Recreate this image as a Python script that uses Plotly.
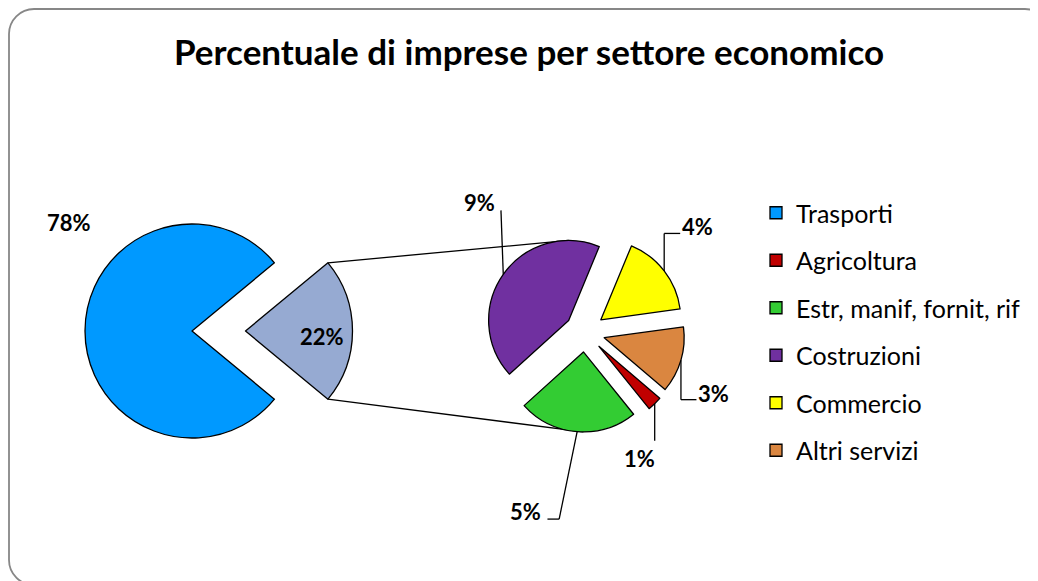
import math
import plotly.graph_objects as go

# page body has an 8px default margin: work in screen pixels, convert to paper
OX, OY = 8, 8
FW, FH = 1030, 573

# ---------------- data ----------------
categories = ["Trasporti", "Agricoltura", "Estr, manif, fornit, rif",
              "Costruzioni", "Commercio", "Altri servizi"]
values = [78.0, 0.65, 5.3, 9.45, 3.65, 2.95]
colors = ["#0099FF", "#C00000", "#33CC33", "#7030A0", "#FFFF00", "#DA8640"]
other_label = "Altro"
other_color = "#96AAD2"
title_text = "Percentuale di imprese per settore economico"

# ---------------- style / layout constants ----------------
FONT = "Lato"
MAIN_C, MAIN_R, MAIN_PULL = (192.0, 331.0), 107.0, 0.5
SEC_C, SEC_R, SEC_PULL = (585.0, 332.0), 80.0, 0.25
SEC_ROT = 130.5
LINE = dict(color="black", width=1.3)

total = sum(values)
main_labels = [categories[0], other_label]
main_values = [values[0], sum(values[1:])]
main_colors = [colors[0], other_color]
sec_labels = categories[1:]
sec_values = values[1:]
sec_colors = colors[1:]


def px(x):
    return (x - OX) / FW


def py(y):
    return 1 - (y - OY) / FH


def domain(c, r, pull):
    half = r * (1 + pull)
    return dict(x=[px(c[0] - half), px(c[0] + half)],
                y=[py(c[1] + half), py(c[1] - half)])


def direction(a):
    a = math.radians(a)
    return math.sin(a), -math.cos(a)


def slices(vals, rot):
    tot = sum(vals)
    out = []
    a = rot
    for v in vals:
        span = v / tot * 360
        out.append((a, a + span, a + span / 2))
        a += span
    return out


# main pie rotation: "other" slice centred on the right (90 deg)
main_deg = [v / sum(main_values) * 360 for v in main_values]
MAIN_ROT = (90 - main_deg[0] - main_deg[1] / 2) % 360
main_sl = slices(main_values, MAIN_ROT)
sec_sl = slices(sec_values, SEC_ROT)
main_pulls = [0, MAIN_PULL]

fig = go.Figure()

# legend entries (tiny pies hidden underneath the main pie, one group each)
for i, (lab, v, c) in enumerate(zip(categories, values, colors)):
    fig.add_trace(go.Pie(
        labels=[lab], values=[v], marker=dict(colors=[c], line=dict(color="black", width=1.3)),
        domain=dict(x=[px(150), px(152)], y=[py(332), py(330)]),
        textinfo="none", hoverinfo="skip", showlegend=True, legendgroup=f"g{i}",
        sort=False))

fig.add_trace(go.Pie(
    labels=main_labels, values=main_values, sort=False, direction="clockwise",
    rotation=MAIN_ROT, pull=main_pulls, marker=dict(colors=main_colors, line=LINE),
    domain=domain(MAIN_C, MAIN_R, MAIN_PULL), textinfo="none", showlegend=False))

fig.add_trace(go.Pie(
    labels=sec_labels, values=sec_values, sort=False, direction="clockwise",
    rotation=SEC_ROT, pull=[SEC_PULL] * len(sec_values),
    marker=dict(colors=sec_colors, line=LINE),
    domain=domain(SEC_C, SEC_R, SEC_PULL), textinfo="none", showlegend=False))

shapes = []
annotations = []
lab_font = dict(family=FONT, size=22, color="black", weight="bold")


def pct(v):
    return f"{round(v / total * 100)}%"


def label(x, y, text, font):
    annotations.append(dict(x=px(x), y=py(y), text=text, showarrow=False, font=font,
                            xref="paper", yref="paper", xanchor="center", yanchor="middle"))


# ---- connector lines between the two pies ----
s0, s1, sm = main_sl[1]
dx, dy = direction(sm)
vx, vy = MAIN_C[0] + MAIN_PULL * MAIN_R * dx, MAIN_C[1] + MAIN_PULL * MAIN_R * dy
corners = []
for a in (s0, s1):
    ex, ey = direction(a)
    corners.append((vx + MAIN_R * ex, vy + MAIN_R * ey))


def sec_point(angle):
    for a0, a1, am in sec_sl:
        if a0 <= angle < a1 or a0 <= angle + 360 < a1:
            mx, my = direction(am)
            ox, oy = SEC_C[0] + SEC_PULL * SEC_R * mx, SEC_C[1] + SEC_PULL * SEC_R * my
            ex, ey = direction(angle)
            return ox + SEC_R * ex, oy + SEC_R * ey


top_pt = sec_point(0)
bot_pt = sec_point(180)
for (x0, y0), (x1, y1) in ((corners[0], top_pt), (corners[1], bot_pt)):
    shapes.append(dict(type="line", xref="paper", yref="paper", layer="below",
                       x0=px(x0), y0=py(y0), x1=px(x1), y1=py(y1),
                       line=dict(color="black", width=1.3)))

# ---- main pie labels ----
blue_off = (-123, -109)
label(MAIN_C[0] + blue_off[0], MAIN_C[1] + blue_off[1], pct(main_values[0]), lab_font)
grey_off = (76.5, 5)
label(vx + grey_off[0], vy + grey_off[1], pct(main_values[1]), lab_font)

# ---- secondary pie labels with leader lines ----
leaders = [
    ([(0, 0), (0, 37)], (-15, 55)),                       # Agricoltura
    ([(0, 0), (-18, 87.4), (-29.7, 87.4)], (-51.3, 80)),  # Estr
    ([(0, 0), (-2.3, -64)], (-23.3, -71.4)),              # Costruzioni
    ([(0, 0), (0, -37.5), (16, -37.5)], (33.7, -44)),     # Commercio
    ([(0, 0), (0, 39.5), (15.5, 39.5)], (32.8, 33.8)),    # Altri servizi
]
for (a0, a1, am), v, (pts, loff) in zip(sec_sl, sec_values, leaders):
    mx, my = direction(am)
    ax = SEC_C[0] + (1 + SEC_PULL) * SEC_R * mx
    ay = SEC_C[1] + (1 + SEC_PULL) * SEC_R * my
    for (p0x, p0y), (p1x, p1y) in zip(pts[:-1], pts[1:]):
        shapes.append(dict(type="line", xref="paper", yref="paper",
                           x0=px(ax + p0x), y0=py(ay + p0y), x1=px(ax + p1x), y1=py(ay + p1y),
                           line=dict(color="black", width=1.3)))
    label(ax + loff[0], ay + loff[1], pct(v), lab_font)

# ---- title ----
label(529, 51, title_text, dict(family=FONT, size=35, color="black", weight="bold"))

# ---- rounded chart frame ----
fx0, fy0, fx1, fy1, rad = 9, 9, 1050, 585, 25
k = 0.45
path = (f"M {px(fx0 + rad)},{py(fy0)} L {px(fx1 - rad)},{py(fy0)} "
        f"C {px(fx1 - rad * k)},{py(fy0)} {px(fx1)},{py(fy0 + rad * k)} {px(fx1)},{py(fy0 + rad)} "
        f"L {px(fx1)},{py(fy1 - rad)} "
        f"C {px(fx1)},{py(fy1 - rad * k)} {px(fx1 - rad * k)},{py(fy1)} {px(fx1 - rad)},{py(fy1)} "
        f"L {px(fx0 + rad)},{py(fy1)} "
        f"C {px(fx0 + rad * k)},{py(fy1)} {px(fx0)},{py(fy1 - rad * k)} {px(fx0)},{py(fy1 - rad)} "
        f"L {px(fx0)},{py(fy0 + rad)} "
        f"C {px(fx0)},{py(fy0 + rad * k)} {px(fx0 + rad * k)},{py(fy0)} {px(fx0 + rad)},{py(fy0)} Z")
shapes.append(dict(type="path", xref="paper", yref="paper", path=path,
                   line=dict(color="#878787", width=1.8), layer="below"))

fig.update_layout(
    width=FW, height=FH, autosize=False,
    margin=dict(l=0, r=0, t=0, b=0),
    paper_bgcolor="white", plot_bgcolor="white",
    shapes=shapes, annotations=annotations,
    legend=dict(x=px(756), y=py(190), xanchor="left", yanchor="top",
                font=dict(family=FONT, size=25, color="black"),
                traceorder="grouped", tracegroupgap=12, bgcolor="rgba(0,0,0,0)"),
)

fig.write_html("out.html")
